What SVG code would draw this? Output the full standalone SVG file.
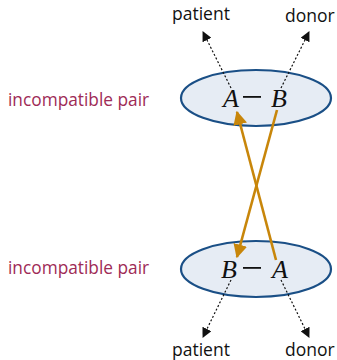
<svg xmlns="http://www.w3.org/2000/svg" width="337" height="360" viewBox="0 0 337 360">
<style>
.pair{fill:#E6ECF4;stroke:#1A4F86;stroke-width:2.2}
.lbl{font-family:"Open Sans","DejaVu Sans",sans-serif;font-size:17.3px;fill:#9E2B56}
.role{font-family:"Open Sans","DejaVu Sans",sans-serif;font-size:17.5px;fill:#111}
.math{font-family:"Liberation Serif","DejaVu Serif",serif;font-style:italic;font-size:26px;fill:#111}
.dash{stroke:#111;stroke-width:1.2;stroke-dasharray:2,2;fill:none}
.give{stroke:#C8860A;stroke-width:2.6;fill:none}
</style>
<defs>
<marker id="ah" viewBox="0 0 10 10" refX="9" refY="5" markerWidth="10" markerHeight="10" markerUnits="userSpaceOnUse" orient="auto"><path d="M0,0L10,5L0,10z" fill="#111"/></marker>
<marker id="oh" viewBox="0 0 10 10" refX="9" refY="5" markerWidth="14" markerHeight="14" markerUnits="userSpaceOnUse" orient="auto"><path d="M0,0L10,5L0,10z" fill="#C8860A"/></marker>
</defs>
<g id="pair1">
<ellipse class="pair" cx="256" cy="98" rx="75" ry="28"/>
<text class="math" x="223" y="107">A</text>
<rect x="243" y="96" width="18" height="1.8" fill="#111"/>
<text class="math" x="271" y="107">B</text>
<text class="lbl" x="8" y="106">incompatible pair</text>
</g>
<g id="pair2">
<ellipse class="pair" cx="256" cy="269" rx="75" ry="28"/>
<text class="math" x="221" y="278">B</text>
<rect x="243" y="267" width="18" height="1.8" fill="#111"/>
<text class="math" x="272" y="278">A</text>
<text class="lbl" x="8" y="274">incompatible pair</text>
</g>
<g id="labels">
<text class="role" x="172" y="20">patient</text>
<text class="role" x="285" y="22">donor</text>
<text class="role" x="172" y="356">patient</text>
<text class="role" x="285" y="356">donor</text>
</g>
<g id="connectors">
<line class="dash" x1="231" y1="88" x2="203" y2="32" marker-end="url(#ah)"/>
<line class="dash" x1="281" y1="88" x2="309" y2="32" marker-end="url(#ah)"/>
<line class="dash" x1="231" y1="280" x2="203" y2="337" marker-end="url(#ah)"/>
<line class="dash" x1="281" y1="280" x2="309" y2="337" marker-end="url(#ah)"/>
<line class="give" x1="276" y1="260" x2="237" y2="112" marker-end="url(#oh)"/>
<line class="give" x1="277" y1="110" x2="237" y2="257" marker-end="url(#oh)"/>
</g>
</svg>
